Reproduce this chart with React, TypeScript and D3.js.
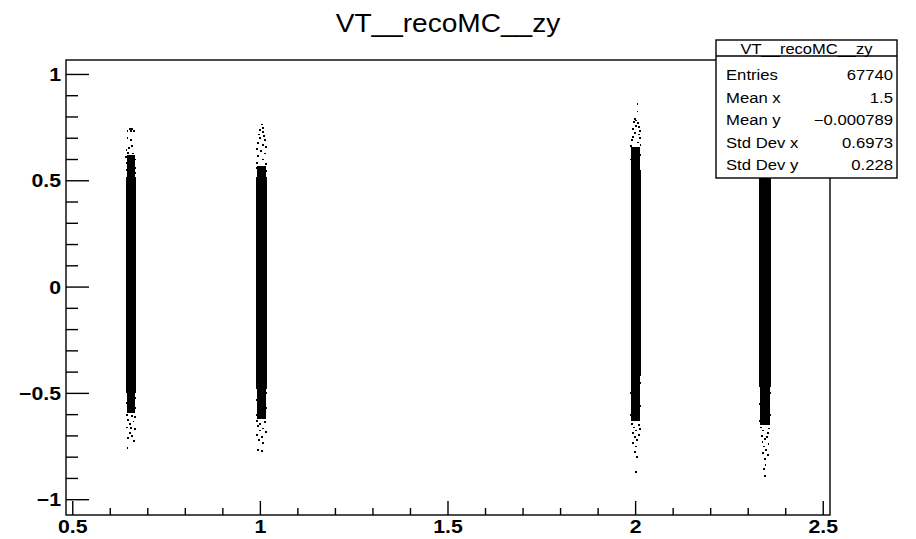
import React from "react";
import * as d3 from "d3";

// ---- data ----
const columnX = [0.655, 1.003, 2.0, 2.345];
const columnHalfWidth = [0.0135, 0.0135, 0.0135, 0.015];
const coreLow = [-0.5, -0.48, -0.42, -0.47];
const coreHigh = [0.52, 0.52, 0.55, 0.54];
const shoulderLow = [-0.59, -0.62, -0.63, -0.65];
const shoulderHigh = [0.62, 0.57, 0.66, 0.63];

const tailPoints1: [number, number][] = [
  [0.652, 0.745], [0.658, 0.745], [0.646, 0.733], [0.655, 0.733], [0.664, 0.733], [0.646, 0.7], [0.655, 0.69],
  [0.658, 0.665], [0.65, 0.655], [0.643, 0.645], [0.648, 0.632], [0.66, 0.628], [0.642, 0.612], [0.651, 0.6],
  [0.666, 0.6], [0.644, 0.585], [0.662, 0.575], [0.665, 0.56], [0.643, 0.55], [0.667, 0.535],
  [0.644, -0.6], [0.658, -0.605], [0.666, -0.612], [0.648, -0.625], [0.662, -0.632], [0.652, -0.645],
  [0.644, -0.66], [0.656, -0.663], [0.665, -0.668], [0.652, -0.688], [0.658, -0.7], [0.648, -0.71],
  [0.664, -0.723], [0.646, -0.755], [0.666, -0.52], [0.643, -0.545], [0.667, -0.57],
];
const tailPoints2: [number, number][] = [
  [1.004, 0.765], [1.006, 0.75], [1.0, 0.738], [1.008, 0.728], [0.996, 0.718], [1.01, 0.71], [0.998, 0.7],
  [1.012, 0.69], [0.994, 0.678], [1.006, 0.668], [1.014, 0.66], [0.992, 0.65], [1.002, 0.64], [1.012, 0.628],
  [0.994, 0.615], [1.008, 0.6], [0.991, 0.585], [1.015, 0.58], [0.992, 0.56], [1.015, 0.545],
  [0.992, -0.63], [1.012, -0.635], [1.0, -0.645], [0.994, -0.655], [1.008, -0.665], [0.998, -0.675],
  [1.014, -0.68], [0.992, -0.695], [1.004, -0.705], [0.996, -0.72], [1.006, -0.735], [0.994, -0.765], [1.004, -0.77],
  [1.015, -0.5], [0.991, -0.53], [1.016, -0.57], [0.991, -0.6],
];
const tailPoints3: [number, number][] = [
  [2.005, 0.862], [2.005, 0.826], [1.998, 0.79], [2.002, 0.783], [1.996, 0.775], [2.006, 0.77], [2.0, 0.758],
  [2.01, 0.752], [1.994, 0.742], [2.012, 0.735], [1.998, 0.725], [2.008, 0.718], [1.992, 0.705], [2.012, 0.7],
  [1.99, 0.69], [2.006, 0.68], [2.013, 0.67], [1.988, 0.665], [2.013, 0.62], [1.988, 0.6],
  [1.99, -0.645], [2.01, -0.65], [1.996, -0.66], [2.012, -0.668], [2.002, -0.675], [1.992, -0.685],
  [2.008, -0.695], [1.998, -0.705], [2.004, -0.72], [1.994, -0.735], [2.002, -0.75], [1.998, -0.775],
  [2.004, -0.8], [2.0, -0.87], [2.013, -0.45], [1.988, -0.5], [2.013, -0.56], [1.988, -0.6],
];
const tailPoints4: [number, number][] = [
  [2.345, 0.7], [2.34, 0.68], [2.35, 0.66],
  [2.334, -0.66], [2.356, -0.665], [2.34, -0.675], [2.352, -0.685], [2.336, -0.7], [2.35, -0.705],
  [2.344, -0.715], [2.338, -0.73], [2.354, -0.738], [2.342, -0.75], [2.348, -0.765], [2.34, -0.78],
  [2.352, -0.79], [2.344, -0.81], [2.346, -0.835], [2.342, -0.855], [2.344, -0.887],
  [2.359, -0.5], [2.331, -0.55], [2.359, -0.6], [2.331, -0.63],
];
const tailPoints = [tailPoints1, tailPoints2, tailPoints3, tailPoints4];

const xMajorTicks = [0.5, 1, 1.5, 2, 2.5];
const xTickLabels = ["0.5", "1", "1.5", "2", "2.5"];
const yMajorTicks = [-1, -0.5, 0, 0.5, 1];
const yTickLabels = ["\u22121", "\u22120.5", "0", "0.5", "1"];

const title = "VT__recoMC__zy";
const statsLabels = ["Entries", "Mean x", "Mean y", "Std Dev x", "Std Dev y"];
const statsValues = ["67740", "1.5", "\u22120.000789", "0.6973", "0.228"];

// ---- layout ----
const W = 916, H = 539;
const frame = { left: 66, right: 830, top: 60, bottom: 515 };
const FONT = "'Liberation Sans', Arial, Helvetica, sans-serif";

function T(props: { x: number; y: number; size: number; anchor?: string; sx?: number; weight?: string; children: any }) {
  const { x, y, size, anchor = "start", sx = 1.12, weight = "normal", children } = props;
  return (
    <text
      transform={`translate(${x},${y}) scale(${sx},1)`}
      fontSize={size}
      fontFamily={FONT}
      textAnchor={anchor}
      fontWeight={weight}
      fill="#000"
    >
      {children}
    </text>
  );
}

export default function App() {
  const x = d3.scaleLinear().domain([0.482, 2.518]).range([frame.left, frame.right]);
  const y = d3.scaleLinear().domain([-1.072, 1.068]).range([frame.bottom, frame.top]);

  const xMinor = d3.range(5, 26).map((v) => v / 10).filter((v) => !xMajorTicks.some((m) => Math.abs(m - v) < 1e-9));
  const yMinor = d3.range(-10, 11).map((v) => v / 10).filter((v) => !yMajorTicks.some((m) => Math.abs(m - v) < 1e-9));

  const box = { x: 716, y: 40, w: 181, h: 138, head: 16 };
  const rowY = [80, 102.5, 125, 147.5, 170];

  return (
    <svg width={W} height={H} style={{ position: "absolute", left: 0, top: 0, background: "#fff" }}>
      <rect x={0} y={0} width={W} height={H} fill="#fff" />
      <T x={448} y={32} size={26} anchor="middle" sx={1.08}>{title}</T>

      {/* data */}
      <g fill="#000" shapeRendering="crispEdges">
        {columnX.map((cx, i) => (
          <g key={i}>
            <rect
              x={x(cx - columnHalfWidth[i] * 0.85)}
              width={x(cx + columnHalfWidth[i] * 0.85) - x(cx - columnHalfWidth[i] * 0.85)}
              y={y(shoulderHigh[i])}
              height={y(shoulderLow[i]) - y(shoulderHigh[i])}
            />
            <rect
              x={x(cx - columnHalfWidth[i])}
              width={x(cx + columnHalfWidth[i]) - x(cx - columnHalfWidth[i])}
              y={y(coreHigh[i])}
              height={y(coreLow[i]) - y(coreHigh[i])}
            />
            {tailPoints[i].map(([px, py], j) => (
              <rect key={j} x={x(px) - 0.9} y={y(py) - 0.9} width={1.8} height={1.8} />
            ))}
          </g>
        ))}
      </g>

      {/* frame */}
      <rect
        x={frame.left}
        y={frame.top}
        width={frame.right - frame.left}
        height={frame.bottom - frame.top}
        fill="none"
        stroke="#000"
        strokeWidth={1.4}
      />

      {/* ticks */}
      <g stroke="#000" strokeWidth={1.4}>
        {xMajorTicks.map((v) => (
          <line key={"xM" + v} x1={x(v)} x2={x(v)} y1={frame.bottom} y2={frame.bottom - 14} />
        ))}
        {xMinor.map((v) => (
          <line key={"xm" + v} x1={x(v)} x2={x(v)} y1={frame.bottom} y2={frame.bottom - 7} />
        ))}
        {yMajorTicks.map((v) => (
          <line key={"yM" + v} x1={frame.left} x2={frame.left + 23} y1={y(v)} y2={y(v)} />
        ))}
        {yMinor.map((v) => (
          <line key={"ym" + v} x1={frame.left} x2={frame.left + 12} y1={y(v)} y2={y(v)} />
        ))}
      </g>
      {xMajorTicks.map((v, i) => (
        <T key={"xl" + v} x={x(v)} y={533} size={18.5} anchor="middle" weight="bold" sx={1.15}>
          {xTickLabels[i]}
        </T>
      ))}
      {yMajorTicks.map((v, i) => (
        <T key={"yl" + v} x={61} y={y(v) + 6.5} size={18.5} anchor="end" weight="bold" sx={1.15}>
          {yTickLabels[i]}
        </T>
      ))}

      {/* stats box */}
      <rect x={box.x} y={box.y} width={box.w} height={box.h} fill="#fff" stroke="#000" strokeWidth={1.4} />
      <line x1={box.x} x2={box.x + box.w} y1={box.y + box.head} y2={box.y + box.head} stroke="#000" strokeWidth={1.4} />
      <T x={box.x + box.w / 2} y={box.y + 13.5} size={15} anchor="middle" sx={1.1}>{title}</T>
      {statsLabels.map((l, i) => (
        <g key={l}>
          <T x={box.x + 10} y={rowY[i]} size={14.5} sx={1.15}>{l}</T>
          <T x={box.x + box.w - 4} y={rowY[i]} size={14.5} anchor="end" sx={1.15}>{statsValues[i]}</T>
        </g>
      ))}
    </svg>
  );
}
